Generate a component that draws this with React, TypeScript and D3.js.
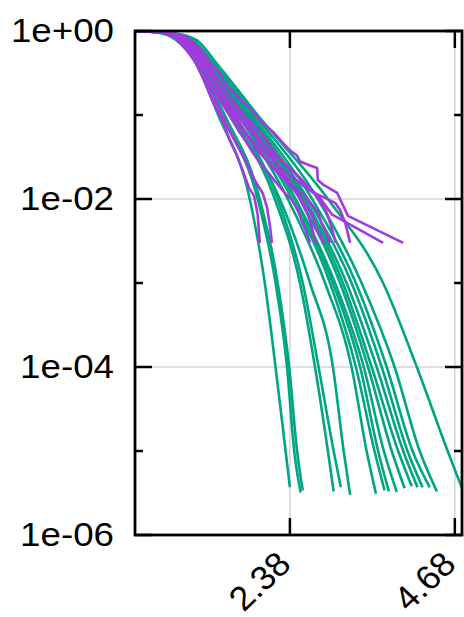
import React from "react";
import * as d3 from "d3";

// ---- axis data ----
const xDomain: [number, number] = [0.22, 4.78];
const yDomain: [number, number] = [1e-6, 1];
const xTicks = [2.38, 4.68];
const xTickLabels = ["2.38", "4.68"];
const yTicksMajor = [1, 1e-2, 1e-4, 1e-6];
const yTickLabels = ["1e+00", "1e-02", "1e-04", "1e-06"];
const yTicksMinor = [1e-1, 1e-3, 1e-5];

// ---- green (smooth) curves: x at shared survival levels, then an end point ----
const greenLevels = [1, 0.947, 0.781, 0.452, 0.1, 0.01, 1e-3, 1e-4, 1e-5];
const greenX: number[][] = [
  [0.22, 0.57, 0.79, 1.04, 1.38, 1.82, 2.03, 2.18, 2.32],
  [0.22, 0.58, 0.82, 1.07, 1.43, 1.93, 2.18, 2.34, 2.44],
  [0.22, 0.6, 0.83, 1.08, 1.47, 1.96, 2.21, 2.37, 2.48],
  [0.22, 0.61, 0.86, 1.11, 1.57, 2.17, 2.52, 2.73, 2.91],
  [0.22, 0.62, 0.89, 1.14, 1.61, 2.21, 2.56, 2.78, 2.99],
  [0.22, 0.6, 0.85, 1.1, 1.54, 2.24, 2.66, 2.98, 3.13],
  [0.22, 0.62, 0.89, 1.15, 1.66, 2.35, 2.87, 3.24, 3.45],
  [0.22, 0.64, 0.92, 1.17, 1.68, 2.41, 2.94, 3.3, 3.56],
  [0.22, 0.65, 0.93, 1.18, 1.72, 2.45, 2.98, 3.36, 3.61],
  [0.22, 0.64, 0.92, 1.18, 1.71, 2.46, 3.01, 3.41, 3.69],
  [0.22, 0.65, 0.94, 1.2, 1.75, 2.52, 3.08, 3.47, 3.8],
  [0.22, 0.67, 0.96, 1.21, 1.78, 2.56, 3.12, 3.52, 3.89],
  [0.22, 0.68, 0.97, 1.22, 1.79, 2.59, 3.17, 3.59, 3.96],
  [0.22, 0.68, 0.99, 1.24, 1.82, 2.63, 3.24, 3.66, 4.02],
  [0.22, 0.69, 1.0, 1.25, 1.85, 2.69, 3.3, 3.73, 4.09],
  [0.22, 0.71, 1.03, 1.28, 1.89, 2.77, 3.38, 3.84, 4.19],
  [0.22, 0.74, 1.08, 1.32, 1.93, 2.91, 3.68, 4.15, 4.58],
];
const greenEndX = [2.38, 2.53, 2.56, 2.99, 3.09, 3.22, 3.58, 3.7, 3.76, 3.87, 3.98, 4.08, 4.16, 4.23, 4.33, 4.43, 4.78];
const greenEndY = [3.7e-6, 3.2e-6, 3.4e-6, 3.3e-6, 3.7e-6, 3.0e-6, 3.1e-6, 3.4e-6, 3.3e-6, 3.25e-6, 3.6e-6, 3.8e-6, 3.7e-6, 3.7e-6, 3.7e-6, 3.3e-6, 3.6e-6];

// ---- purple (empirical) curves: [x, survival] ----
const purpleCurves: [number, number][][] = [
  [[0.22, 1], [0.68, 0.97], [0.92, 0.87], [1.07, 0.68], [1.2, 0.52], [1.29, 0.39], [1.39, 0.33], [1.49, 0.23], [1.63, 0.17], [1.74, 0.14], [1.85, 0.115], [1.96, 0.087], [2.05, 0.074], [2.16, 0.061], [2.27, 0.048], [2.38, 0.038], [2.48, 0.033], [2.52, 0.028], [2.66, 0.025], [2.76, 0.0234], [2.77, 0.0168], [2.85, 0.0147], [3.04, 0.0118], [3.19, 0.0063], [3.96, 0.003]],
  [[0.22, 1], [0.64, 0.97], [0.88, 0.85], [1.03, 0.66], [1.15, 0.48], [1.27, 0.34], [1.38, 0.26], [1.52, 0.17], [1.64, 0.13], [1.77, 0.092], [1.88, 0.076], [2.0, 0.058], [2.1, 0.044], [2.2, 0.033], [2.32, 0.025], [2.44, 0.021], [2.55, 0.0168], [2.66, 0.0135], [2.8, 0.0103], [2.97, 0.0065], [3.68, 0.003]],
  [[0.22, 1], [0.61, 0.97], [0.85, 0.83], [1.0, 0.59], [1.13, 0.45], [1.24, 0.33], [1.35, 0.23], [1.45, 0.16], [1.57, 0.12], [1.68, 0.092], [1.8, 0.07], [1.91, 0.053], [2.0, 0.038], [2.12, 0.031], [2.24, 0.0234], [2.38, 0.0193], [2.52, 0.0155], [2.69, 0.0121], [2.87, 0.0103], [3.01, 0.009], [3.08, 0.0074], [3.15, 0.0053], [3.22, 0.003]],
  [[0.22, 1], [0.6, 0.97], [0.82, 0.83], [0.97, 0.59], [1.1, 0.42], [1.21, 0.3], [1.31, 0.21], [1.42, 0.15], [1.53, 0.11], [1.64, 0.083], [1.74, 0.063], [1.84, 0.05], [1.93, 0.038], [2.05, 0.029], [2.17, 0.0234], [2.31, 0.0178], [2.45, 0.0135], [2.59, 0.0109], [2.69, 0.0085], [2.77, 0.007], [2.83, 0.0049], [2.88, 0.004], [2.94, 0.003]],
  [[0.22, 1], [0.65, 0.97], [0.89, 0.83], [1.04, 0.63], [1.17, 0.43], [1.28, 0.29], [1.38, 0.2], [1.49, 0.135], [1.6, 0.103], [1.7, 0.076], [1.8, 0.056], [1.91, 0.043], [2.02, 0.032], [2.13, 0.024], [2.25, 0.019], [2.38, 0.0147], [2.49, 0.0112], [2.6, 0.0085], [2.69, 0.0066], [2.74, 0.0045], [2.8, 0.0038], [2.85, 0.003]],
  [[0.22, 1], [0.62, 0.97], [0.85, 0.8], [1.01, 0.56], [1.14, 0.38], [1.25, 0.26], [1.35, 0.18], [1.45, 0.13], [1.56, 0.092], [1.66, 0.066], [1.77, 0.048], [1.86, 0.036], [1.96, 0.027], [2.07, 0.021], [2.18, 0.016], [2.3, 0.0121], [2.41, 0.0097], [2.49, 0.0074], [2.55, 0.0053], [2.6, 0.0043], [2.66, 0.003]],
  [[0.22, 1], [0.67, 0.97], [0.9, 0.85], [1.07, 0.65], [1.2, 0.45], [1.31, 0.33], [1.4, 0.25], [1.52, 0.17], [1.63, 0.12], [1.73, 0.095], [1.84, 0.072], [1.95, 0.053], [2.06, 0.04], [2.17, 0.029], [2.28, 0.021], [2.38, 0.016], [2.48, 0.0118], [2.56, 0.0085], [2.63, 0.0065], [2.69, 0.0045], [2.74, 0.003]],
  [[0.22, 1], [0.64, 0.97], [0.88, 0.78], [1.01, 0.56], [1.13, 0.39], [1.21, 0.28], [1.29, 0.19], [1.4, 0.115], [1.52, 0.07], [1.63, 0.046], [1.74, 0.031], [1.82, 0.022], [1.87, 0.0178], [1.93, 0.0147], [2.0, 0.0118], [2.06, 0.008], [2.1, 0.0049], [2.13, 0.003]],
  [[0.22, 1], [0.57, 0.97], [0.79, 0.83], [0.94, 0.59], [1.06, 0.43], [1.17, 0.28], [1.27, 0.17], [1.35, 0.12], [1.45, 0.083], [1.54, 0.05], [1.64, 0.033], [1.72, 0.022], [1.81, 0.0135], [1.88, 0.0109], [1.93, 0.0066], [1.96, 0.003]],
  [[0.22, 1], [0.61, 0.97], [0.85, 0.85], [1.01, 0.65], [1.14, 0.46], [1.25, 0.34], [1.36, 0.234], [1.47, 0.164], [1.59, 0.115], [1.7, 0.087], [1.82, 0.066], [1.93, 0.053], [2.03, 0.042], [2.14, 0.035], [2.25, 0.029], [2.38, 0.0234], [2.49, 0.0188], [2.6, 0.0147], [2.74, 0.0112], [2.88, 0.0074], [2.95, 0.0049], [3.02, 0.003]],
];

const GREEN = "#00a683";
const PURPLE = "#a03cdc";

export default function App() {
  const W = 464, H = 617;
  const L = 135, R = 462, T = 31, B = 535;
  const x = d3.scaleLinear().domain(xDomain).range([L, R]);
  const y = d3.scaleLog().domain(yDomain).range([B, T]);

  const smooth = d3
    .line<[number, number]>()
    .x((d) => x(d[0]))
    .y((d) => y(d[1]))
    .curve(d3.curveMonotoneX);
  const straight = d3
    .line<[number, number]>()
    .x((d) => x(d[0]))
    .y((d) => y(d[1]));

  const greenSeries: [number, number][][] = greenX.map((xs, i) => [
    ...xs.map((v, j) => [v, greenLevels[j]] as [number, number]),
    [greenEndX[i], greenEndY[i]] as [number, number],
  ]);

  const major = 17, minor = 8;
  const font = "'Liberation Sans', Arial, Helvetica, sans-serif";

  return (
    <svg
      width={W}
      height={H}
      viewBox={`0 0 ${W} ${H}`}
      style={{ position: "absolute", left: 0, top: 0, background: "#fff" }}
    >
      <defs>
        <clipPath id="plot">
          <rect x={L} y={T} width={R - L} height={B - T} />
        </clipPath>
      </defs>
      <rect x={0} y={0} width={W} height={H} fill="#fff" />
      {/* grid */}
      <g stroke="#d4d4d4" strokeWidth={1.5}>
        {xTicks.map((t) => (
          <line key={"gx" + t} x1={x(t)} x2={x(t)} y1={T} y2={B} />
        ))}
        {yTicksMajor.slice(1, -1).map((t) => (
          <line key={"gy" + t} x1={L} x2={R} y1={y(t)} y2={y(t)} />
        ))}
      </g>
      {/* curves */}
      <g clipPath="url(#plot)" fill="none" strokeWidth={2.6} strokeLinejoin="round">
        {greenSeries.map((s, i) => (
          <path key={"g" + i} d={smooth(s) || ""} stroke={GREEN} />
        ))}
        {purpleCurves.map((s, i) => (
          <path key={"p" + i} d={straight(s) || ""} stroke={PURPLE} />
        ))}
      </g>
      {/* ticks */}
      <g stroke="#000" strokeWidth={2.5}>
        {yTicksMajor.map((t) => (
          <g key={"ty" + t}>
            <line x1={L} x2={L + major} y1={y(t)} y2={y(t)} />
            <line x1={R} x2={R - major} y1={y(t)} y2={y(t)} />
          </g>
        ))}
        {yTicksMinor.map((t) => (
          <g key={"tm" + t}>
            <line x1={L} x2={L + minor} y1={y(t)} y2={y(t)} />
            <line x1={R} x2={R - minor} y1={y(t)} y2={y(t)} />
          </g>
        ))}
        {xTicks.map((t) => (
          <g key={"tx" + t}>
            <line x1={x(t)} x2={x(t)} y1={B} y2={B - major} />
            <line x1={x(t)} x2={x(t)} y1={T} y2={T + major} />
          </g>
        ))}
      </g>
      {/* border */}
      <rect x={L} y={T} width={R - L} height={B - T} fill="none" stroke="#000" strokeWidth={2.8} />
      {/* labels */}
      <g fontFamily={font} fontSize={34} fill="#000">
        {yTicksMajor.map((t, i) => (
          <text
            key={"ly" + t}
            transform={`translate(114,${y(t) + 11}) scale(1.08,1)`}
            textAnchor="end"
          >
            {yTickLabels[i]}
          </text>
        ))}
        {xTicks.map((t, i) => (
          <text
            key={"lx" + t}
            transform={`translate(${x(t) + 3},566) scale(1.05,1) rotate(-45)`}
            textAnchor="end"
          >
            {xTickLabels[i]}
          </text>
        ))}
      </g>
    </svg>
  );
}
